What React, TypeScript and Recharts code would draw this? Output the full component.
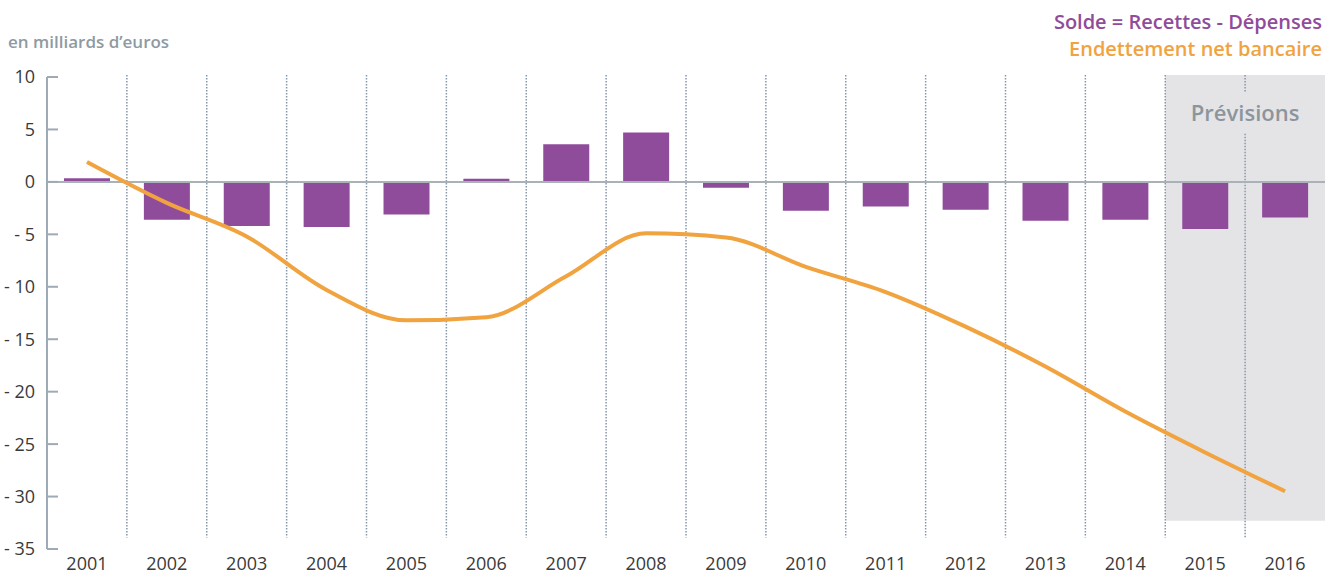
import {
  ComposedChart,
  Bar,
  Line,
  XAxis,
  YAxis,
  ReferenceArea,
  ReferenceLine,
} from 'recharts'

const years = ['2001', '2002', '2003', '2004', '2005', '2006', '2007', '2008', '2009', '2010', '2011', '2012', '2013', '2014', '2015', '2016']
const solde = [0.35, -3.6, -4.2, -4.3, -3.1, 0.3, 3.6, 4.7, -0.55, -2.75, -2.35, -2.65, -3.7, -3.6, -4.5, -3.4]
const endettement = [1.9, -2.0, -5.2, -10.3, -13.2, -12.9, -9.0, -4.9, -5.3, -8.1, -10.5, -13.8, -17.6, -21.9, -25.8, -29.5]
const yTicks = [-35, -30, -25, -20, -15, -10, -5, 0, 5, 10]
const forecastYears = ['2015', '2016']

const data = years.map((year, i) => ({ year, solde: solde[i], endettement: endettement[i] }))

const PURPLE = '#8f4c9b'
const ORANGE = '#f0a33f'
const AXIS = '#9eaab6'
const DOTS = '#8797aa'
const FONT = '"Open Sans", "Noto Sans", sans-serif'

function YTick(props: any) {
  const { x, y, payload } = props
  const v = payload.value as number
  const label = v < 0 ? `- ${-v}` : `${v}`
  return (
    <g>
      <line x1={x} x2={x + 11} y1={y} y2={y} stroke={AXIS} strokeWidth={2} />
      <text x={x - 12} y={y} dy="0.36em" textAnchor="end" fill="#3a3a3a" fontSize={18} fontFamily={FONT}>
        {label}
      </text>
    </g>
  )
}

function App() {
  // dotted separators between years; the 2016 one is cut around the "Prévisions" label
  const sep = (key: string, year: string, from: number, to: number) => (
    <ReferenceLine
      key={key}
      segment={[{ x: year, y: from }, { x: year, y: to }]}
      position="start"
      stroke={DOTS}
      strokeWidth={1.5}
      strokeDasharray="1.5 1.5"
      ifOverflow="visible"
    />
  )

  return (
    <div style={{ position: 'absolute', left: 0, top: 0, width: 1337, height: 576, background: '#fff', fontFamily: FONT }}>
      <div style={{ position: 'absolute', left: 8, top: 30, fontSize: 17, fontWeight: 600, color: '#8e9aa3' }}>
        en milliards d’euros
      </div>
      <div style={{ position: 'absolute', right: 15, top: 8, textAlign: 'right', fontSize: 20, fontWeight: 600, lineHeight: '27px' }}>
        <div style={{ color: PURPLE }}>Solde = Recettes - Dépenses</div>
        <div style={{ color: ORANGE }}>Endettement net bancaire</div>
      </div>
      <ComposedChart
        width={1337}
        height={576}
        data={data}
        margin={{ top: 77, right: 12, left: 0, bottom: 0 }}
        barSize={46}
      >
        <ReferenceArea
          x1={forecastYears[0]}
          x2={forecastYears[1]}
          y1={-32.3}
          y2={10.2}
          fill="#e4e4e6"
          fillOpacity={1}
          stroke="none"
          ifOverflow="visible"
          label={{ value: 'Prévisions', position: 'insideTop', offset: 30, fill: '#8c959d', fontSize: 22, fontWeight: 600, fontFamily: FONT }}
        />
        {years.slice(1).map((y) =>
          y === '2016'
            ? [sep(y + 'a', y, 10.2, 8.5), sep(y + 'b', y, 4.6, -33.9)]
            : sep(y, y, 10.2, -33.9)
        )}
        <XAxis
          dataKey="year"
          axisLine={false}
          tickLine={false}
          tickSize={0}
          tickMargin={8}
          height={27}
          interval={0}
          tick={{ fill: '#3a3a3a', fontSize: 18, fontFamily: FONT }}
        />
        <YAxis
          domain={[-35, 10]}
          ticks={yTicks}
          interval={0}
          width={47}
          tickSize={0}
          tickMargin={0}
          tickLine={false}
          axisLine={{ stroke: AXIS, strokeWidth: 2 }}
          tick={<YTick />}
        />
        <Bar dataKey="solde" fill={PURPLE} isAnimationActive={false} />
        <ReferenceLine y={0} stroke="#a9b1b9" strokeWidth={2} />
        <Line
          type="monotone"
          dataKey="endettement"
          stroke={ORANGE}
          strokeWidth={4}
          dot={false}
          isAnimationActive={false}
        />
      </ComposedChart>
    </div>
  )
}

export default App
